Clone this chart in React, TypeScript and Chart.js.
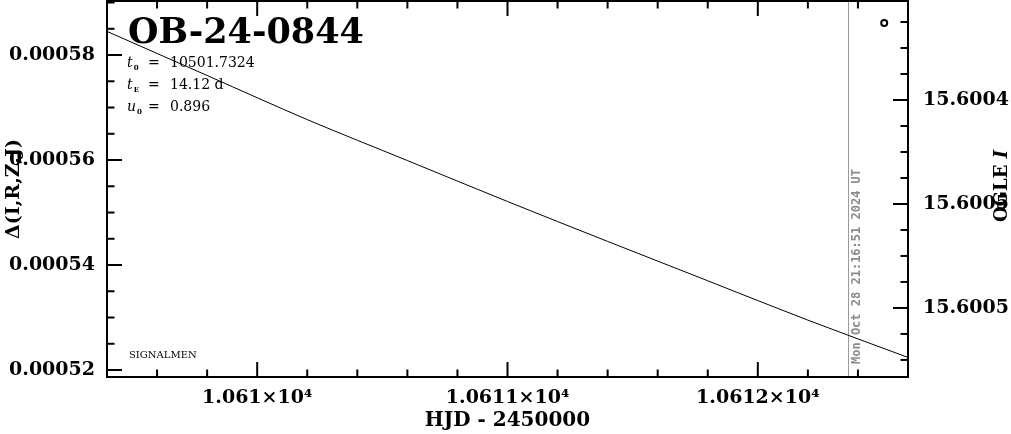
import React, { useEffect, useRef } from "react";
import { Chart, registerables } from "chart.js";
Chart.register(...registerables);

// ---- data ----
const HJD = [10609.4, 10609.8, 10610.2, 10610.6, 10611.0, 10611.4, 10611.8, 10612.2, 10612.6];
const DELTA_FLUX = [0.0005845, 0.0005761, 0.0005677, 0.0005599, 0.0005521, 0.0005445, 0.000537, 0.0005295, 0.0005224];
const OGLE_HJD = [10612.505];
const OGLE_I = [15.600363];
const NOW_HJD = 10612.362;
const NOW_LABEL = "Mon Oct 28 21:16:51 2024 UT";

const X_MIN = 10609.4;
const X_MAX = 10612.6;
const Y_MIN = 0.00051867;
const Y_MAX = 0.00059029;
const Y2_MIN = 15.6003524;
const Y2_MAX = 15.6005332;

const X_TICKS = [10610, 10611, 10612];
const X_TICK_LABELS = ["1.061×10⁴", "1.0611×10⁴", "1.0612×10⁴"];
const X_MINOR_STEP = 0.2;
const Y_TICKS = [0.00052, 0.00054, 0.00056, 0.00058];
const Y_TICK_LABELS = ["0.00052", "0.00054", "0.00056", "0.00058"];
const Y_MINOR_STEP = 0.000005;
const Y2_TICKS = [15.6004, 15.60045, 15.6005];
const Y2_TICK_LABELS = ["15.6004", "15.6005", "15.6005"];
const Y2_MINOR_STEP = 0.0000125;

const TITLE = "OB-24-0844";
const PARAMS = [
  { sym: "t", sub: "0", val: "10501.7324" },
  { sym: "t", sub: "E", val: "14.12 d" },
  { sym: "u", sub: "0", val: "0.896" },
];

const SERIF = '"DejaVu Serif", serif';

function drawAxisTicks(ctx: CanvasRenderingContext2D, scale: any, majors: number[], step: number, side: string, area: any) {
  const lo = Math.min(scale.min, scale.max);
  const hi = Math.max(scale.min, scale.max);
  const base = majors[0];
  const kMin = Math.ceil((lo - base) / step - 1e-6);
  const kMax = Math.floor((hi - base) / step + 1e-6);
  for (let k = kMin; k <= kMax; k++) {
    const v = base + k * step;
    const isMajor = majors.some((m) => Math.abs(m - v) < step * 0.01);
    const len = isMajor ? 15 : 7.5;
    const p = scale.getPixelForValue(v);
    ctx.beginPath();
    if (side === "bottom") { ctx.moveTo(p, area.bottom); ctx.lineTo(p, area.bottom - len); }
    if (side === "top") { ctx.moveTo(p, area.top); ctx.lineTo(p, area.top + len); }
    if (side === "left") { ctx.moveTo(area.left, p); ctx.lineTo(area.left + len, p); }
    if (side === "right") { ctx.moveTo(area.right, p); ctx.lineTo(area.right - len, p); }
    ctx.stroke();
  }
}

const framePlugin = {
  id: "frame",
  beforeDatasetsDraw(chart: any) {
    const { ctx, chartArea: a, scales } = chart;
    const xp = scales.x.getPixelForValue(NOW_HJD);
    ctx.save();
    ctx.strokeStyle = "#9a9a9a";
    ctx.lineWidth = 1;
    ctx.beginPath();
    ctx.moveTo(Math.round(xp) + 0.5, a.top);
    ctx.lineTo(Math.round(xp) + 0.5, a.bottom);
    ctx.stroke();
    ctx.translate(xp + 8, a.bottom - 13);
    ctx.rotate(-Math.PI / 2);
    ctx.fillStyle = "#8c8c8c";
    ctx.font = 'bold 12px "DejaVu Sans Mono", monospace';
    ctx.textBaseline = "middle";
    ctx.textAlign = "left";
    ctx.fillText(NOW_LABEL, 0, 0);
    ctx.restore();
  },
  afterDraw(chart: any) {
    const { ctx, chartArea: a, scales } = chart;
    ctx.save();
    ctx.strokeStyle = "#000";
    ctx.lineWidth = 2;
    ctx.strokeRect(a.left, a.top, a.right - a.left, a.bottom - a.top);
    drawAxisTicks(ctx, scales.x, X_TICKS, X_MINOR_STEP, "bottom", a);
    drawAxisTicks(ctx, scales.x, X_TICKS, X_MINOR_STEP, "top", a);
    drawAxisTicks(ctx, scales.y, Y_TICKS, Y_MINOR_STEP, "left", a);
    drawAxisTicks(ctx, scales.y2, Y2_TICKS, Y2_MINOR_STEP, "right", a);

    // title
    ctx.fillStyle = "#000";
    ctx.textAlign = "left";
    ctx.textBaseline = "alphabetic";
    ctx.font = `bold 35px ${SERIF}`;
    ctx.fillText(TITLE, a.left + 21, 43);

    // parameters
    const baselines = [67, 89, 111];
    PARAMS.forEach((p, i) => {
      const by = baselines[i];
      ctx.font = `italic 14px ${SERIF}`;
      ctx.fillText(p.sym, a.left + 20, by);
      const w = ctx.measureText(p.sym).width;
      ctx.font = `bold 7px ${SERIF}`;
      ctx.fillText(p.sub, a.left + 20 + w + 1, by + 3);
      ctx.font = `14px ${SERIF}`;
      ctx.fillText("=", a.left + 41, by);
      ctx.fillText(p.val, a.left + 63, by);
    });

    // signature
    ctx.font = `10px ${SERIF}`;
    ctx.fillText("SIGNALMEN", a.left + 22, a.bottom - 19);

    // right axis title
    ctx.translate(1002, (a.top + a.bottom) / 2 - 3);
    ctx.rotate(-Math.PI / 2);
    ctx.textBaseline = "middle";
    ctx.font = `bold 18px ${SERIF}`;
    const w1 = ctx.measureText("OGLE ").width;
    ctx.font = `bold italic 18px ${SERIF}`;
    const w2 = ctx.measureText("I").width;
    const start = -(w1 + w2) / 2;
    ctx.font = `bold 18px ${SERIF}`;
    ctx.fillText("OGLE ", start, 0);
    ctx.font = `bold italic 18px ${SERIF}`;
    ctx.fillText("I", start + w1, 0);
    ctx.restore();
  },
};

const tickFont = { family: SERIF, size: 19, weight: "bold" as const };

function noPad(s: any) {
  s.paddingTop = 0;
  s.paddingBottom = 0;
  s.paddingLeft = 0;
  s.paddingRight = 0;
}

export default function App() {
  const ref = useRef<HTMLCanvasElement>(null);
  useEffect(() => {
    document.body.style.margin = "0";
    const chart = new Chart(ref.current!, {
      type: "line",
      data: {
        datasets: [
          {
            type: "line",
            data: HJD.map((x, i) => ({ x, y: DELTA_FLUX[i] })),
            borderColor: "#000",
            borderWidth: 1,
            pointRadius: 0,
            cubicInterpolationMode: "monotone",
            fill: false,
            yAxisID: "y",
          } as any,
          {
            type: "scatter",
            data: OGLE_HJD.map((x, i) => ({ x, y: OGLE_I[i] })),
            yAxisID: "y2",
            pointRadius: 3,
            borderWidth: 2,
            borderColor: "#000",
            backgroundColor: "#fff",
            showLine: false,
          } as any,
        ],
      },
      options: {
        animation: false,
        responsive: false,
        maintainAspectRatio: false,
        events: [],
        layout: { autoPadding: false, padding: { top: 1, left: 0, right: 0, bottom: 0 } },
        plugins: { legend: { display: false }, tooltip: { enabled: false } },
        scales: {
          x: {
            type: "linear",
            position: "bottom",
            min: X_MIN,
            max: X_MAX,
            grid: { display: false, drawTicks: false },
            border: { display: false },
            afterBuildTicks: (s: any) => { s.ticks = X_TICKS.map((v) => ({ value: v })); },
            afterFit: (s: any) => { s.height = 57; noPad(s); },
            ticks: {
              autoSkip: false,
              maxRotation: 0,
              padding: 10,
              color: "#000",
              font: tickFont,
              callback: (_v: any, i: number) => X_TICK_LABELS[i],
            },
            title: {
              display: true,
              text: "HJD - 2450000",
              color: "#000",
              font: { family: SERIF, size: 20, weight: "bold" },
              padding: { top: 0, bottom: 1 },
            },
          },
          y: {
            type: "linear",
            position: "left",
            min: Y_MIN,
            max: Y_MAX,
            grid: { display: false, drawTicks: false },
            border: { display: false },
            afterBuildTicks: (s: any) => { s.ticks = Y_TICKS.map((v) => ({ value: v })); },
            afterFit: (s: any) => { s.width = 107; noPad(s); },
            ticks: {
              autoSkip: false,
              padding: 12,
              color: "#000",
              font: tickFont,
              callback: (_v: any, i: number) => Y_TICK_LABELS[i],
            },
            title: {
              display: true,
              text: "Δ(I,R,Z,J)",
              color: "#000",
              font: { family: SERIF, size: 19, weight: "bold" },
              padding: { top: 3, bottom: 0 },
            },
          },
          y2: {
            type: "linear",
            position: "right",
            reverse: true,
            min: Y2_MIN,
            max: Y2_MAX,
            grid: { display: false, drawTicks: false },
            border: { display: false },
            afterBuildTicks: (s: any) => { s.ticks = Y2_TICKS.map((v) => ({ value: v })); },
            afterFit: (s: any) => { s.width = 103; noPad(s); },
            ticks: {
              autoSkip: false,
              padding: 15,
              color: "#000",
              font: tickFont,
              callback: (_v: any, i: number) => Y2_TICK_LABELS[i],
            },
          },
        },
      } as any,
      plugins: [framePlugin],
    });
    return () => chart.destroy();
  }, []);
  return <canvas ref={ref} width={1011} height={434} style={{ display: "block" }} />;
}
